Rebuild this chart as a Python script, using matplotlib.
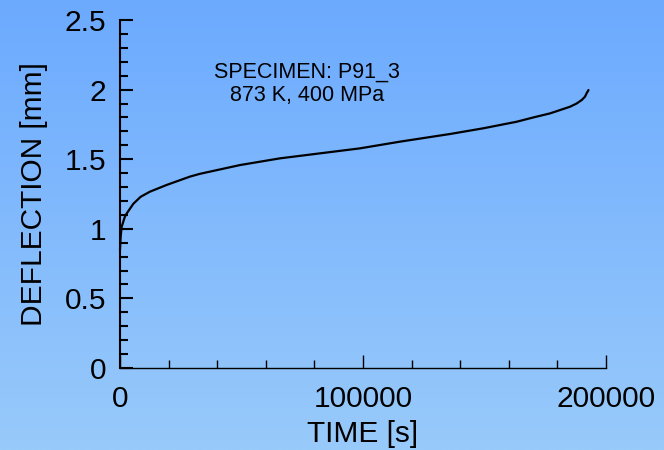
import numpy as np
import matplotlib
matplotlib.use("Agg")
import matplotlib.pyplot as plt
from matplotlib.ticker import MultipleLocator, FuncFormatter

# Creep deflection curve read from the test record
time_s = [0, 300, 700, 2000, 2750, 5500, 8500, 12350, 19200, 28800, 32900,
          49400, 65800, 82300, 98800, 115200, 135800, 149500, 163200,
          170100, 176950, 181070, 185200, 187900, 190000, 191350, 192000,
          192800]
deflection_mm = [0.85, 0.95, 1.015, 1.087, 1.11, 1.18, 1.23, 1.267, 1.315,
                 1.375, 1.395, 1.458, 1.506, 1.542, 1.578, 1.626, 1.681,
                 1.722, 1.769, 1.80, 1.829, 1.853, 1.877, 1.90, 1.925,
                 1.949, 1.973, 1.997]

x_ticks = [0, 100000, 200000]
y_ticks = [0, 0.5, 1, 1.5, 2, 2.5]
note_lines = ["SPECIMEN: P91_3", "873 K, 400 MPa"]

plt.rcParams['font.family'] = ['Liberation Sans', 'DejaVu Sans']

fig = plt.figure(figsize=(6.64, 4.5), dpi=100)

# vertical blue gradient behind everything
bg = fig.add_axes([0, 0, 1, 1], zorder=-10)
top = np.array([108, 170, 255]) / 255
bottom = np.array([152, 202, 250]) / 255
g = np.linspace(0, 1, 256)[:, None]
grad = top[None, :] * (1 - g) + bottom[None, :] * g
bg.imshow(grad[:, None, :].repeat(2, axis=1), aspect='auto', extent=[0, 1, 0, 1])
bg.set_axis_off()

ax = fig.add_axes([120 / 664, 1 - 368 / 450, (606 - 120) / 664, (368 - 20) / 450])
ax.patch.set_alpha(0)

ax.plot(time_s, deflection_mm, color='black', lw=1.6, solid_joinstyle='round',
        solid_capstyle='round', clip_on=False)

ax.set_xlim(0, 200000)
ax.set_ylim(0, 2.5)
ax.set_xticks(x_ticks)
ax.set_yticks(y_ticks)
ax.xaxis.set_minor_locator(MultipleLocator(20000))
ax.yaxis.set_minor_locator(MultipleLocator(0.1))
fmt = FuncFormatter(lambda v, p: f"{v:g}")
ax.xaxis.set_major_formatter(fmt)
ax.yaxis.set_major_formatter(fmt)

for s in ['top', 'right']:
    ax.spines[s].set_visible(False)
ax.spines['left'].set_linewidth(1.5)
ax.spines['bottom'].set_linewidth(1.0)

ax.tick_params(axis='both', which='both', direction='in', labelsize=21.5,
               colors='black')
ax.tick_params(axis='y', which='major', length=9.5, width=1.5, pad=10)
ax.tick_params(axis='y', which='minor', length=6, width=1.5)
ax.tick_params(axis='x', which='major', length=9.5, width=1.0, pad=12.5)
ax.tick_params(axis='x', which='minor', length=6, width=1.0)

ax.set_xlabel("TIME [s]", fontsize=21.5, labelpad=5)
ax.set_ylabel("DEFLECTION [mm]", fontsize=21.5, labelpad=12)

ax.text(77000, 2.04, "\n".join(note_lines), ha='center', va='center',
        fontsize=15.5, linespacing=1.15)

fig.savefig("out.png", dpi=100)
